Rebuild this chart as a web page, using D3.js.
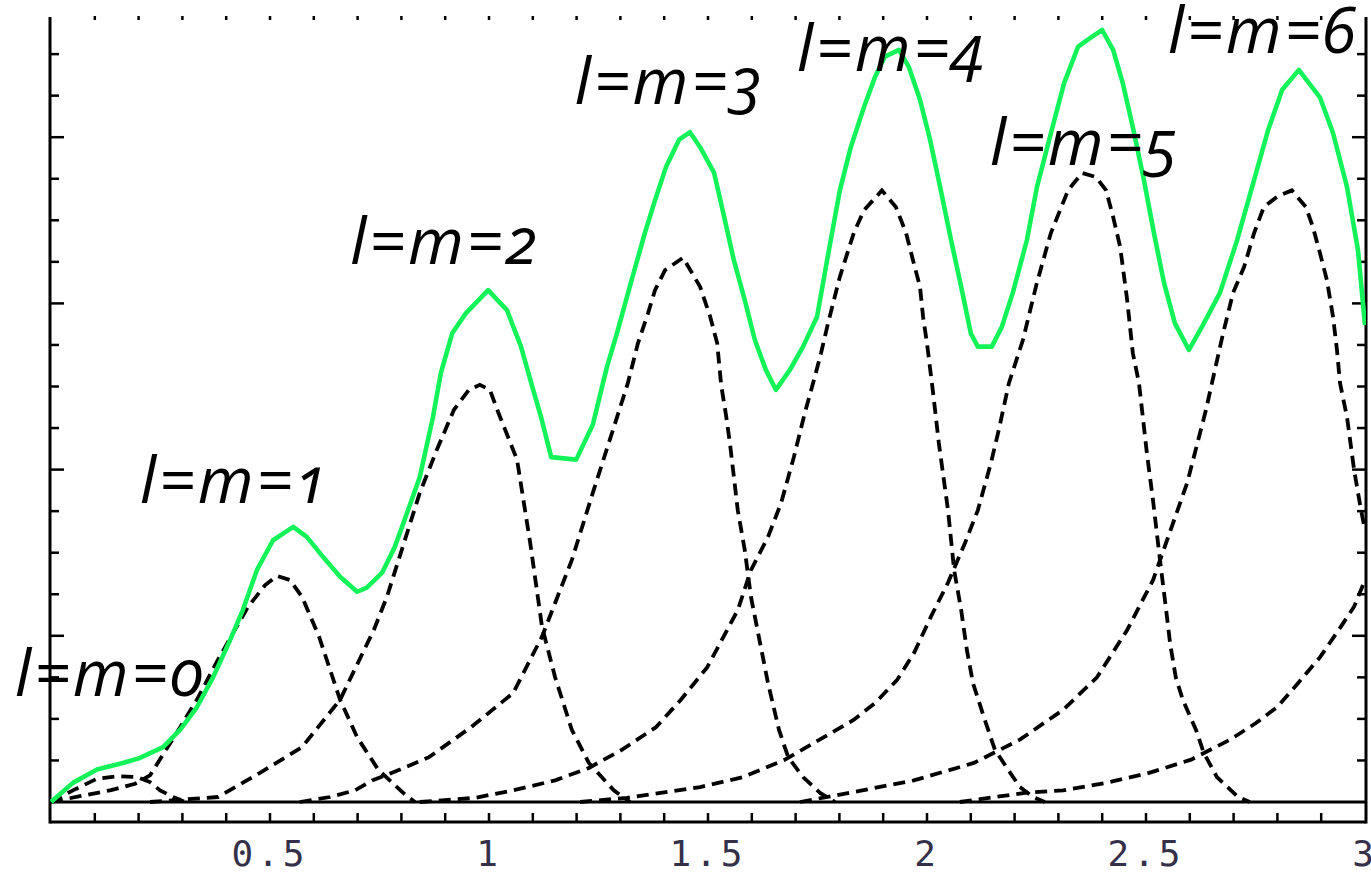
<!DOCTYPE html>
<html>
<head>
<meta charset="utf-8">
<script src="https://cdn.jsdelivr.net/npm/d3@7"></script>
<style>
  html, body { margin: 0; padding: 0; background: #fff; }
  svg { display: block; }
</style>
</head>
<body>
<svg id="chart" width="1371" height="876"></svg>
<script>
// ---------- data ----------
const xTickValues = [0.5, 1, 1.5, 2, 2.5, 3];
const xTickLabels = ["0.5", "1", "1.5", "2", "2.5", "3"];

const curveL0 = [[0,0],[0.050,0.014],[0.105,0.028],[0.151,0.031],[0.196,0.030],[0.226,0.024],[0.249,0.014],[0.279,0.006],[0.306,0]];
const curveL1 = [[0,0],[0.066,0.007],[0.135,0.014],[0.192,0.022],[0.226,0.032],[0.258,0.059],[0.295,0.090],[0.333,0.123],[0.377,0.167],[0.411,0.199],[0.450,0.235],[0.489,0.261],[0.516,0.272],[0.546,0.267],[0.573,0.247],[0.612,0.199],[0.660,0.123],[0.699,0.078],[0.747,0.039],[0.804,0.011],[0.831,0]];
const curveL2 = [[0.226,0],[0.381,0.006],[0.477,0.035],[0.573,0.066],[0.660,0.123],[0.737,0.207],[0.767,0.247],[0.806,0.312],[0.842,0.372],[0.881,0.424],[0.920,0.472],[0.954,0.496],[0.979,0.502],[1.002,0.496],[1.021,0.469],[1.064,0.412],[1.094,0.312],[1.121,0.211],[1.151,0.150],[1.189,0.087],[1.228,0.047],[1.285,0.014],[1.322,0]];
const curveL3 = [[0.568,0],[0.637,0.006],[0.694,0.014],[0.733,0.026],[0.797,0.039],[0.863,0.054],[0.959,0.090],[1.055,0.131],[1.121,0.199],[1.189,0.291],[1.237,0.372],[1.285,0.451],[1.317,0.504],[1.340,0.552],[1.363,0.588],[1.379,0.616],[1.402,0.640],[1.443,0.655],[1.482,0.620],[1.505,0.584],[1.521,0.552],[1.530,0.502],[1.541,0.466],[1.550,0.432],[1.568,0.351],[1.584,0.303],[1.598,0.247],[1.619,0.191],[1.637,0.143],[1.662,0.087],[1.683,0.054],[1.717,0.030],[1.756,0.011],[1.790,0]];
const curveL4 = [[0.842,0],[0.968,0.005],[1.055,0.014],[1.151,0.026],[1.228,0.041],[1.304,0.063],[1.381,0.090],[1.438,0.123],[1.498,0.162],[1.568,0.231],[1.598,0.279],[1.637,0.319],[1.667,0.360],[1.696,0.415],[1.721,0.468],[1.742,0.508],[1.758,0.540],[1.774,0.576],[1.801,0.632],[1.833,0.685],[1.856,0.712],[1.897,0.736],[1.929,0.716],[1.952,0.685],[1.968,0.652],[1.984,0.620],[1.991,0.584],[2.000,0.552],[2.014,0.492],[2.027,0.432],[2.048,0.351],[2.062,0.279],[2.078,0.231],[2.091,0.183],[2.105,0.143],[2.130,0.102],[2.155,0.063],[2.185,0.039],[2.212,0.018],[2.242,0.006],[2.269,0]];
const curveL5 = [[1.208,0],[1.315,0.005],[1.482,0.018],[1.580,0.030],[1.676,0.051],[1.774,0.081],[1.833,0.099],[1.881,0.119],[1.932,0.147],[1.970,0.179],[2.009,0.223],[2.048,0.264],[2.087,0.312],[2.116,0.351],[2.146,0.408],[2.164,0.448],[2.187,0.504],[2.219,0.556],[2.251,0.625],[2.283,0.685],[2.322,0.736],[2.354,0.757],[2.386,0.752],[2.409,0.736],[2.425,0.704],[2.441,0.668],[2.457,0.604],[2.470,0.540],[2.484,0.504],[2.502,0.420],[2.516,0.363],[2.532,0.291],[2.546,0.231],[2.555,0.191],[2.568,0.150],[2.584,0.123],[2.614,0.087],[2.632,0.059],[2.662,0.030],[2.710,0.006],[2.737,0]];
const curveL6 = [[1.710,0],[1.852,0.014],[1.970,0.026],[2.107,0.047],[2.212,0.075],[2.311,0.111],[2.388,0.150],[2.457,0.207],[2.516,0.267],[2.594,0.384],[2.637,0.472],[2.676,0.564],[2.699,0.613],[2.724,0.644],[2.747,0.685],[2.769,0.716],[2.801,0.729],[2.833,0.736],[2.865,0.716],[2.881,0.692],[2.897,0.661],[2.913,0.628],[2.927,0.584],[2.936,0.544],[2.943,0.504],[2.959,0.463],[2.975,0.400],[2.989,0.357],[3.000,0.327]];
const curveL7 = [[2.075,0],[2.224,0.011],[2.311,0.014],[2.409,0.023],[2.507,0.035],[2.603,0.051],[2.692,0.075],[2.751,0.095],[2.799,0.114],[2.847,0.143],[2.897,0.174],[2.945,0.211],[2.975,0.235],[3.000,0.267]];
const totalCurve = [[0,0],[0.050,0.023],[0.105,0.039],[0.164,0.047],[0.203,0.053],[0.256,0.066],[0.295,0.087],[0.333,0.114],[0.370,0.150],[0.409,0.195],[0.438,0.231],[0.470,0.279],[0.507,0.315],[0.553,0.331],[0.584,0.319],[0.621,0.295],[0.660,0.271],[0.699,0.253],[0.721,0.258],[0.756,0.276],[0.785,0.307],[0.813,0.348],[0.842,0.391],[0.872,0.463],[0.890,0.516],[0.916,0.564],[0.947,0.588],[0.998,0.616],[1.041,0.592],[1.073,0.548],[1.103,0.492],[1.119,0.463],[1.142,0.415],[1.199,0.412],[1.237,0.454],[1.269,0.523],[1.292,0.564],[1.324,0.625],[1.356,0.685],[1.379,0.724],[1.404,0.764],[1.434,0.797],[1.459,0.806],[1.482,0.788],[1.514,0.757],[1.537,0.704],[1.559,0.652],[1.584,0.604],[1.607,0.556],[1.632,0.520],[1.655,0.496],[1.687,0.520],[1.717,0.548],[1.749,0.584],[1.774,0.658],[1.801,0.736],[1.826,0.788],[1.856,0.836],[1.881,0.872],[1.904,0.897],[1.936,0.905],[1.959,0.884],[1.984,0.845],[2.007,0.797],[2.030,0.740],[2.055,0.676],[2.078,0.620],[2.100,0.564],[2.116,0.548],[2.148,0.548],[2.171,0.572],[2.196,0.613],[2.228,0.676],[2.251,0.740],[2.283,0.805],[2.313,0.865],[2.345,0.909],[2.377,0.921],[2.400,0.929],[2.425,0.905],[2.447,0.865],[2.470,0.812],[2.495,0.749],[2.518,0.685],[2.541,0.625],[2.566,0.576],[2.598,0.544],[2.628,0.572],[2.669,0.613],[2.708,0.676],[2.747,0.749],[2.779,0.809],[2.811,0.857],[2.849,0.881],[2.897,0.848],[2.927,0.805],[2.959,0.740],[2.984,0.664],[3.000,0.574]];

const labelTexts = ["l=m=0", "l=m=1", "l=m=2", "l=m=3", "l=m=4", "l=m=5", "l=m=6"];
const labelX = [-0.082, 0.203, 0.683, 1.196, 1.703, 2.144, 2.550];
const labelY = [0.128, 0.360, 0.648, 0.840, 0.880, 0.766, 0.901];

// ---------- layout ----------
const svg = d3.select("#chart");
const x = d3.scaleLinear().domain([0, 3]).range([51, 1365]);
const y = d3.scaleLinear().domain([0, 0.2]).range([802, 635.8]);

const frameTop = 17, frameBottom = 822, frameLeft = 50, frameRight = 1366;

svg.append("defs").append("clipPath").attr("id", "plotclip")
  .append("rect").attr("x", frameLeft).attr("y", 0)
  .attr("width", frameRight - frameLeft).attr("height", frameBottom);

// frame lines
const frame = svg.append("g").attr("stroke", "#000").attr("fill", "none");
frame.append("line").attr("x1", frameLeft).attr("x2", frameLeft).attr("y1", frameTop).attr("y2", frameBottom + 1.5).attr("stroke-width", 3);
frame.append("line").attr("x1", frameRight).attr("x2", frameRight).attr("y1", frameTop).attr("y2", frameBottom + 1.5).attr("stroke-width", 3);
frame.append("line").attr("x1", frameLeft).attr("x2", frameRight).attr("y1", frameBottom).attr("y2", frameBottom).attr("stroke-width", 3);

// zero line
svg.append("line").attr("x1", frameLeft).attr("x2", frameRight)
  .attr("y1", y(0)).attr("y2", y(0)).attr("stroke", "#000").attr("stroke-width", 3);

// x ticks (bottom and top)
const xMinor = d3.range(1, 30).map(i => i / 10);
svg.append("g").selectAll("line").data(xMinor).join("line")
  .attr("x1", d => x(d)).attr("x2", d => x(d))
  .attr("y1", frameBottom).attr("y2", frameBottom - 9)
  .attr("stroke", "#000").attr("stroke-width", 2.5);
svg.append("g").selectAll("line").data(xMinor).join("line")
  .attr("x1", d => x(d)).attr("x2", d => x(d))
  .attr("y1", frameTop - 1).attr("y2", frameTop + 3)
  .attr("stroke", "#000").attr("stroke-width", 2.5);

// y ticks (left and right)
const yMinor = d3.range(1, 19).map(i => i * 0.05);
const isMajor = d => Math.abs(d / 0.2 - Math.round(d / 0.2)) < 1e-6;
svg.append("g").selectAll("line").data(yMinor).join("line")
  .attr("x1", frameLeft).attr("x2", d => frameLeft + (isMajor(d) ? 14 : 9))
  .attr("y1", d => y(d)).attr("y2", d => y(d))
  .attr("stroke", "#000").attr("stroke-width", 2.5);
svg.append("g").selectAll("line").data(yMinor).join("line")
  .attr("x1", frameRight).attr("x2", d => frameRight - (isMajor(d) ? 14 : 9))
  .attr("y1", d => y(d)).attr("y2", d => y(d))
  .attr("stroke", "#000").attr("stroke-width", 2.5);

// x tick labels
svg.append("g").selectAll("text").data(xTickValues).join("text")
  .attr("x", d => x(d)).attr("y", 866)
  .attr("text-anchor", "middle")
  .attr("font-family", "DejaVu Sans Mono, monospace")
  .attr("font-size", 36)
  .attr("letter-spacing", 4)
  .attr("fill", "#34304a")
  .text((d, i) => xTickLabels[i]);

// curves
const line = d3.line().x(d => x(d[0])).y(d => y(d[1]));
const plot = svg.append("g").attr("clip-path", "url(#plotclip)");
const dashed = [curveL0, curveL1, curveL2, curveL3, curveL4, curveL5, curveL6, curveL7];
plot.selectAll("path.dash").data(dashed).join("path")
  .attr("class", "dash")
  .attr("d", line)
  .attr("fill", "none").attr("stroke", "#000")
  .attr("stroke-width", 3.8)
  .attr("stroke-dasharray", "12,7");
plot.append("path").datum(totalCurve)
  .attr("d", line)
  .attr("fill", "none").attr("stroke", "#14f25a")
  .attr("stroke-width", 4.6)
  .attr("stroke-linejoin", "round");

// annotations
svg.append("g").selectAll("text").data(labelTexts).join("text")
  .attr("x", (d, i) => x(labelX[i]))
  .attr("y", (d, i) => y(labelY[i]))
  .attr("font-family", "'Open Sans', Lato, sans-serif")
  .attr("font-style", "italic")
  .attr("font-weight", 500)
  .attr("font-size", 64)
  .attr("letter-spacing", 2.5)
  .style("font-variant-numeric", "oldstyle-nums")
  .attr("fill", "#000")
  .text(d => d);
</script>
</body>
</html>
